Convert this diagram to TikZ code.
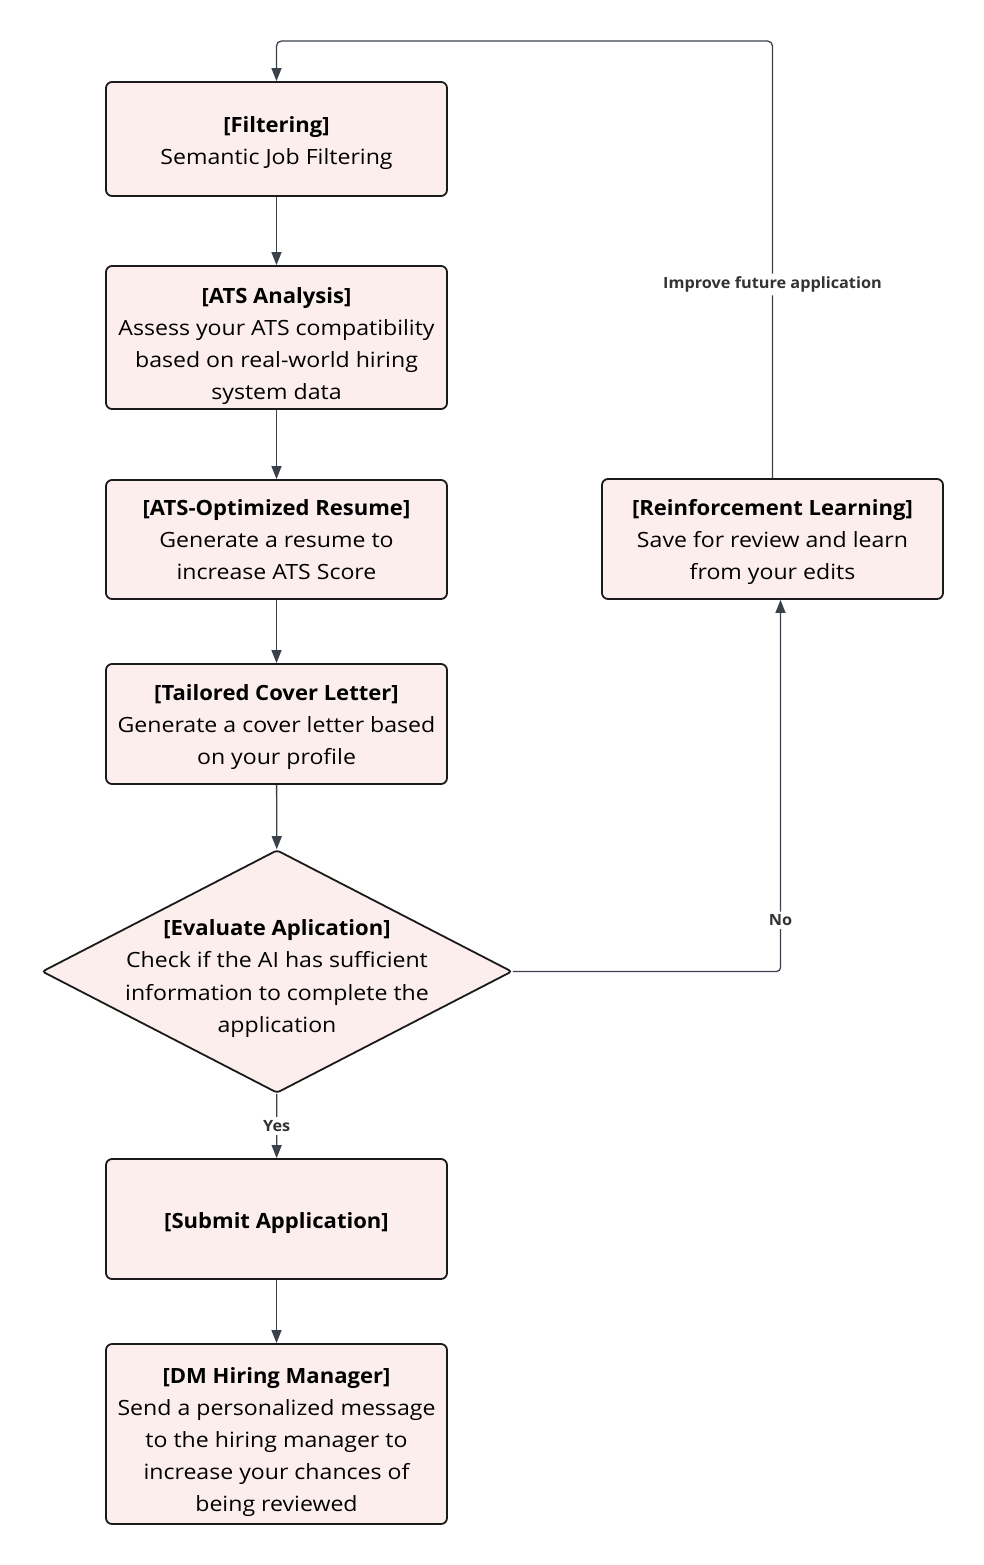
\documentclass[tikz,border=0pt]{standalone}
\usepackage{fontspec}
\setmainfont[FakeStretch=1.1, BoldFeatures={FakeStretch=1.05}]{Open Sans}
\usetikzlibrary{shapes.geometric,arrows.meta}
\definecolor{pinkc}{HTML}{FDEEEE}
\definecolor{boxc}{HTML}{1A1A1A}
\definecolor{arrc}{HTML}{3B414B}
\definecolor{lblc}{HTML}{333333}
\newcommand{\tline}[2]{\raisebox{0pt}[\dimexpr\height+#1\relax]{#2}}
\tikzset{
  stepbox/.style={draw=boxc, fill=pinkc, line width=1.8pt, rounded corners=6pt,
    minimum width=341pt, align=center, inner sep=0pt, text depth=0pt,
    font=\fontsize{21}{32}\selectfont},
  decision/.style={diamond, draw=boxc, fill=pinkc, line width=1.8pt, rounded corners=3pt,
    minimum width=470pt, minimum height=243pt, inner sep=0pt},
  dtext/.style={align=center, inner sep=0pt, text depth=0pt, font=\fontsize{21}{32.6}\selectfont},
  arr/.style={draw=arrc, line width=1.3pt, -{Triangle[length=13pt,width=10pt]}},
  lbl/.style={fill=white, text=lblc, font=\fontsize{15.5}{18}\selectfont\bfseries, inner sep=3pt}
}
\begin{document}
\begin{tikzpicture}[x=1pt,y=-1pt]
\useasboundingbox (0,0) rectangle (983,1565);
\node[stepbox, minimum height=114pt] (f) at (276.5,139) {\tline{4pt}{\textbf{[Filtering]}}\\Semantic Job Filtering};
\node[stepbox, minimum height=143pt] (a) at (276.5,337.5) {\tline{12pt}{\textbf{[ATS Analysis]}}\\Assess your ATS compatibility\\based on real-world hiring\\system data};
\node[stepbox, minimum height=119pt] (r) at (276.5,539.5) {\tline{1pt}{\textbf{[ATS-Optimized Resume]}}\\Generate a resume to\\increase ATS Score};
\node[stepbox, minimum height=120pt] (c) at (276.5,724) {\tline{2pt}{\textbf{[Tailored Cover Letter]}}\\Generate a cover letter based\\on your profile};
\node[decision] (d) at (277,971.5) {};
\node[dtext] (dt) at (277,976) {\textbf{[Evaluate Aplication]}\\Check if the AI has sufficient\\information to complete the\\application};
\node[stepbox, minimum height=120pt] (s) at (276.5,1219) {\tline{4pt}{\textbf{[Submit Application]}}};
\node[stepbox, minimum height=180pt] (m) at (276.5,1434) {\tline{12pt}{\textbf{[DM Hiring Manager]}}\\Send a personalized message\\to the hiring manager to\\increase your chances of\\being reviewed};
\node[stepbox, minimum height=120pt] (l) at (772.5,539) {\tline{1pt}{\textbf{[Reinforcement Learning]}}\\Save for review and learn\\from your edits};

\draw[arr] (f) -- (a);
\draw[arr] (a) -- (r);
\draw[arr] (r) -- (c);
\draw[arr] (c) -- (d);
\draw[arr] (d) -- node[lbl]{Yes} (s);
\draw[arr] (s) -- (m);
\draw[arr, rounded corners=4pt] (d.east) -| node[lbl, pos=0.569]{No} ([xshift=8pt]l.south);
\coordinate (tr) at (772.5,41);
\coordinate (tl) at (276.5,41);
\draw[arr, rounded corners=5pt] (l.north) -- node[lbl, pos=0.443]{Improve future application} (tr) -- (tl) -- (f.north);
\end{tikzpicture}
\end{document}
